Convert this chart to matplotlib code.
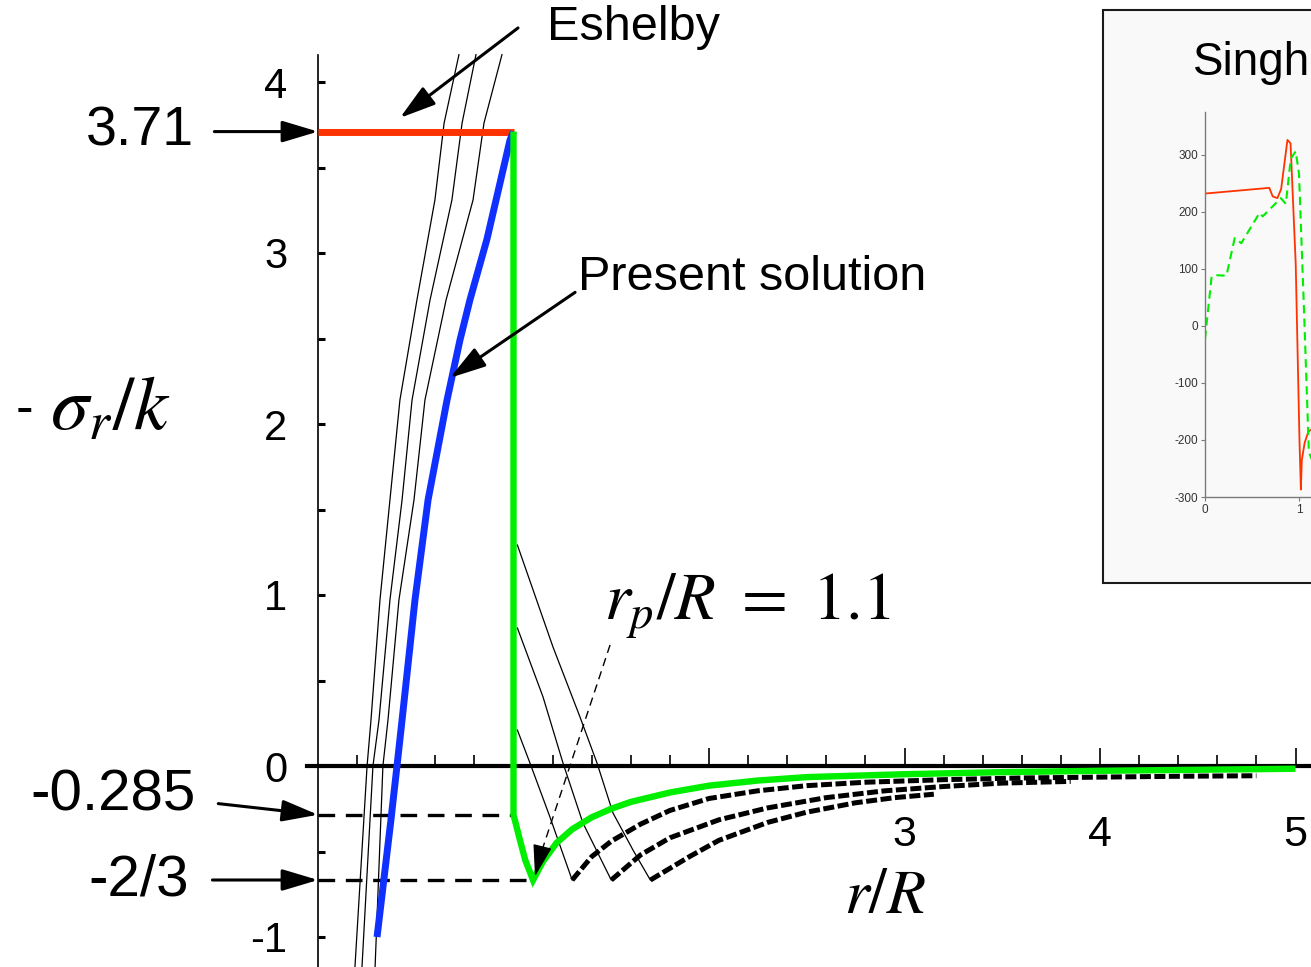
import matplotlib
matplotlib.use("Agg")
import numpy as np
import matplotlib.pyplot as plt
from matplotlib.ticker import FixedLocator, FixedFormatter
from matplotlib.patches import Rectangle

plt.rcParams["axes.unicode_minus"] = False
plt.rcParams["mathtext.fontset"] = "stix"
plt.rcParams["font.family"] = ["Liberation Sans", "DejaVu Sans"]

# ---------------- data ----------------
# Eshelby solution (uniform stress in the inclusion)
eshelby_r = [0.0, 1.0]
eshelby_s = [3.71, 3.71]

# present solution inside the inclusion
present_r = [1.0, 0.982, 0.864, 0.777, 0.726, 0.66, 0.563, 0.496, 0.43, 0.404, 0.373, 0.302]
present_s = [3.71, 3.66, 3.08, 2.725, 2.49, 2.14, 1.556, 0.971, 0.269, 0.0, -0.316, -1.0]

# stress outside the inclusion for r_p/R = 1.1
matrix_r = [1.0, 1.0, 1.03, 1.06, 1.1, 1.15, 1.22, 1.3, 1.4, 1.5, 1.6, 1.8, 2.0,
            2.25, 2.5, 3.0, 3.5, 4.0, 4.5, 5.0]
matrix_s = [3.71, -0.285, -0.42, -0.55, -0.667, -0.56, -0.45, -0.37, -0.30, -0.25,
            -0.21, -0.155, -0.115, -0.085, -0.065, -0.048, -0.036, -0.028, -0.022, -0.016]

# family of thin curves inside the inclusion
thin_s = [4.16, 3.76, 3.31, 2.725, 2.14, 1.556, 0.971, 0.269, 0.0, -1.175]
thin_a_r = [0.721, 0.645, 0.598, 0.506, 0.419, 0.368, 0.317, 0.271, 0.251, 0.189]
thin_b_r = [0.808, 0.737, 0.685, 0.573, 0.481, 0.430, 0.368, 0.312, 0.281, 0.225]
thin_c_r = [0.941, 0.849, 0.793, 0.655, 0.547, 0.491, 0.414, 0.358, 0.332, 0.292]

# plastic zone branches for larger r_p/R
fall13_r = [1.02, 1.084, 1.187, 1.30]
fall13_s = [0.21, 0.018, -0.30, -0.667]
fall15_r = [1.02, 1.151, 1.253, 1.355, 1.50]
fall15_s = [0.807, 0.404, 0.018, -0.333, -0.667]
fall17_r = [1.02, 1.202, 1.340, 1.427, 1.509, 1.611, 1.70]
fall17_s = [1.292, 0.696, 0.287, 0.018, -0.275, -0.491, -0.667]

# elastic branches for larger r_p/R
rise13_r = [1.3, 1.4, 1.5, 1.65, 1.8, 2.0, 2.25, 2.5, 2.8, 3.2, 3.6, 4.0, 4.4, 4.8]
rise13_s = [-0.667, -0.53, -0.44, -0.34, -0.26, -0.19, -0.145, -0.115, -0.095, -0.08,
            -0.07, -0.065, -0.06, -0.057]
rise15_r = [1.5, 1.65, 1.8, 2.05, 2.3, 2.6, 2.9, 3.2, 3.5, 3.85]
rise15_s = [-0.667, -0.52, -0.42, -0.315, -0.245, -0.185, -0.145, -0.12, -0.10, -0.09]
rise17_r = [1.7, 1.9, 2.05, 2.3, 2.5, 2.75, 2.95, 3.15]
rise17_s = [-0.667, -0.53, -0.435, -0.33, -0.27, -0.215, -0.185, -0.165]

# tick labels
x_major = [1, 2, 3, 4, 5]
x_major_labels = ["", "", "3", "4", "5"]
y_major = [-1, 0, 1, 2, 3, 4]
y_major_labels = ["-1", "0", "1", "2", "3", "4"]

# Singh et al. inset curves
singh_red_x = [0, 0.684, 0.72, 0.77, 0.81, 0.877, 0.91, 0.965, 1.005, 1.02, 1.03, 1.06, 1.1, 1.2]
singh_red_y = [232, 242, 227, 224, 240, 326, 320, 109, -200, -287, -235, -205, -185, -175]
singh_green_x = [0, 0.07, 0.105, 0.228, 0.316, 0.386, 0.58, 0.614, 0.807, 0.86, 0.912,
                 0.965, 1.0, 1.05, 1.105, 1.15]
singh_green_y = [-23, 86, 89, 88, 154, 145, 198, 192, 224, 214, 293, 306, 267, 43, -221, -240]
singh_yticks = [-300, -200, -100, 0, 100, 200, 300]
singh_xticks = [0, 1]

# ---------------- colours ----------------
RED = "#ff3300"
BLUE = "#1030ff"
GREEN = "#00ee00"

# ---------------- figure ----------------
W, H = 1311, 967
fig = plt.figure(figsize=(W / 100, H / 100), dpi=100)
ax = fig.add_axes([0, 0, 1, 1])
x0px, ux = 318, 195.5
y0px, uy = 766, 171.0
ax.set_xlim(-x0px / ux, (W - x0px) / ux)
ax.set_ylim((y0px - H) / uy, y0px / uy)
ax.patch.set_alpha(0)

for s in ("top", "right"):
    ax.spines[s].set_visible(False)
ax.spines["left"].set_position(("data", 0))
ax.spines["bottom"].set_position(("data", 0))
ax.spines["left"].set_bounds((y0px - H) / uy, 4.16)
ax.spines["bottom"].set_bounds(-0.056, 5.2)
ax.spines["left"].set_linewidth(1.2)
ax.spines["bottom"].set_linewidth(3.0)

ax.xaxis.set_major_locator(FixedLocator(x_major))
ax.xaxis.set_major_formatter(FixedFormatter(x_major_labels))
ax.xaxis.set_minor_locator(FixedLocator([v for v in np.round(np.arange(0.2, 5.0, 0.2), 1)
                                         if abs(v - round(v)) > 1e-6]))
ax.tick_params(axis="x", which="major", direction="in", length=13, width=1.2,
               labelsize=31, pad=35)
ax.tick_params(axis="x", which="minor", direction="in", length=8, width=1.2)

ax.yaxis.set_major_locator(FixedLocator(y_major))
ax.yaxis.set_major_formatter(FixedFormatter(y_major_labels))
ax.yaxis.set_minor_locator(FixedLocator([-0.5, 0.5, 1.5, 2.5, 3.5]))
ax.tick_params(axis="y", which="both", direction="in", length=5, width=2.2,
               labelsize=30, pad=22)

# thin curves inside the inclusion
for rr in (thin_a_r, thin_b_r, thin_c_r):
    ax.plot(rr, thin_s, color="black", lw=0.9, zorder=2, clip_on=False)

# thin plastic branches
for rr, ss in ((fall13_r, fall13_s), (fall15_r, fall15_s), (fall17_r, fall17_s)):
    ax.plot(rr, ss, color="black", lw=0.9, zorder=2)

# elastic branches drawn as coarse steps
for rr, ss in ((rise13_r, rise13_s), (rise15_r, rise15_s), (rise17_r, rise17_s)):
    ax.plot(rr, ss, color="black", lw=3.6, ls=(0, (2.2, 0.7)), zorder=2,
            solid_capstyle="butt", dash_capstyle="butt")

# reference dashed levels
ax.plot([0, 1.0], [-0.285, -0.285], color="black", lw=2.4, ls=(0, (5, 3.2)), zorder=2)
ax.plot([0, 1.1], [-2 / 3, -2 / 3], color="black", lw=2.4, ls=(0, (5, 3.2)), zorder=2)

# main curves
ax.plot(eshelby_r, eshelby_s, color=RED, lw=5, zorder=5, solid_capstyle="butt")
ax.plot(present_r, present_s, color=BLUE, lw=5, zorder=5, solid_capstyle="butt")
ax.plot(matrix_r, matrix_s, color=GREEN, lw=4.6, zorder=6, solid_capstyle="butt",
        solid_joinstyle="miter")

# arrows
arrow_kw = dict(arrowstyle="-|>,head_length=1.1,head_width=0.33", color="black",
                lw=2.2, mutation_scale=20, shrinkA=0, shrinkB=0)
ax.annotate("", xy=(0, 3.71), xytext=(-0.53, 3.71), arrowprops=arrow_kw, zorder=7)
ax.annotate("", xy=(0, -0.285), xytext=(-0.51, -0.22), arrowprops=arrow_kw, zorder=7)
ax.annotate("", xy=(0, -2 / 3), xytext=(-0.54, -2 / 3), arrowprops=arrow_kw, zorder=7)
ax.annotate("", xy=(0.419, 3.79), xytext=(1.023, 4.316), arrowprops=arrow_kw, zorder=7)
ax.annotate("", xy=(0.675, 2.27), xytext=(1.315, 2.77), arrowprops=arrow_kw, zorder=7)

# dashed pointer to the r_p/R = 1.1 minimum
ax.plot([1.494, 1.135], [0.708, -0.53], color="black", lw=1.0, ls=(0, (6, 4)), zorder=7)
ax.annotate("", xy=(1.11, -0.645), xytext=(1.135, -0.53),
            arrowprops=dict(arrowstyle="-|>,head_length=1.0,head_width=0.3",
                            color="black", lw=1.0, mutation_scale=20,
                            shrinkA=0, shrinkB=0), zorder=7)

# text
ax.text(1.616, 4.316, "Eshelby", fontsize=35, ha="center", va="center")
ax.text(2.22, 2.854, "Present solution", fontsize=35, ha="center", va="center")
ax.text(-0.91, 3.71, "3.71", fontsize=40, ha="center", va="center")
ax.text(-1.049, -0.17, "-0.285", fontsize=42, ha="center", va="center")
ax.text(-0.916, -0.667, "-2/3", fontsize=42, ha="center", va="center")
ax.text(-1.50, 2.08, "-", fontsize=38, ha="center", va="center")
ax.text(-1.371, 1.965, r"$\sigma_r/k$", fontsize=55, ha="left", va="baseline")
ax.text(1.465, 0.854, r"$r_p/R\ =\ 1.1$", fontsize=48, ha="left", va="baseline")
ax.text(2.69, -0.86, r"$r/R$", fontsize=46, ha="left", va="baseline")

# ---------------- inset ----------------
frame = Rectangle((1103 / W, 1 - 583 / H), 240 / W, (583 - 10) / H,
                  transform=fig.transFigure, facecolor="#f9f9f9",
                  edgecolor="#1a1a1a", lw=1.5, zorder=0)
fig.add_artist(frame)
fig.text(1193 / W, 1 - 63 / H, "Singh", fontsize=33, ha="left", va="center")

ins = fig.add_axes([1205 / W, 1 - 497 / H, 188 / W, (497 - 112) / H])
ins.patch.set_alpha(0)
ins.set_xlim(0, 2)
ins.set_ylim(-300, 375)
for s in ("top", "right"):
    ins.spines[s].set_visible(False)
for s in ("left", "bottom"):
    ins.spines[s].set_color("#7a7a7a")
    ins.spines[s].set_linewidth(1.0)
ins.set_yticks(singh_yticks)
ins.set_xticks(singh_xticks)
ins.tick_params(axis="both", labelsize=8.5, labelcolor="#333333", color="#7a7a7a",
                length=3, width=0.8, pad=2)
ins.plot(singh_red_x, singh_red_y, color=RED, lw=1.3)
ins.plot(singh_green_x, singh_green_y, color=GREEN, lw=1.5, ls=(0, (4, 2.5)))

fig.savefig("out.png", dpi=100)
